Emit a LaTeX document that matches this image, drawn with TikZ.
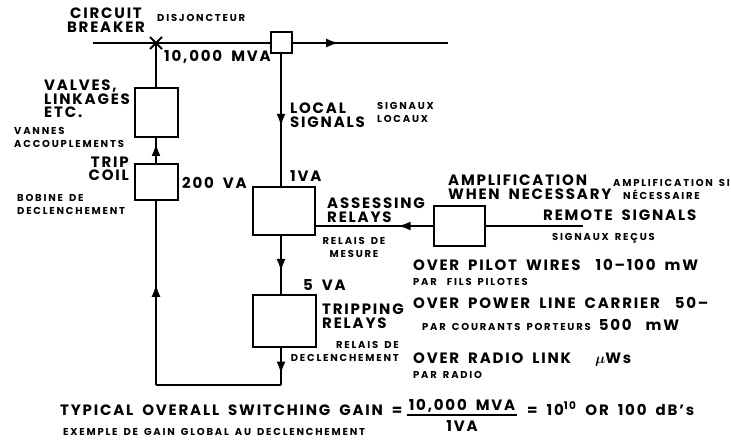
\documentclass[tikz,border=0pt]{standalone}
\usepackage{amsmath}
\usepackage{fontspec}
\setmainfont{Poppins}
\usetikzlibrary{arrows.meta,calc,positioning,decorations.markings}
\newcommand{\bgt}{\bfseries\fontsize{15}{13.5}\selectfont\addfontfeatures{LetterSpace=12}\spaceskip=9pt plus 1pt minus 1pt\relax}
\newcommand{\smt}{\bfseries\fontsize{10}{13}\selectfont\addfontfeatures{LetterSpace=18}\spaceskip=6pt plus 1pt minus 1pt\relax}

\begin{document}
\begin{tikzpicture}[x=1pt,y=-1pt,
  blk/.style={draw,line width=2pt,inner sep=0pt},
  big/.style={font=\bgt,inner sep=0pt,align=left},
  sml/.style={font=\smt,inner sep=0pt,align=left},
  wire/.style={line width=2.6pt},
  arr/.style={postaction={decorate},decoration={markings,
    mark=at position #1 with {\arrow{Latex[length=13pt,width=9pt]}}}}]
  \useasboundingbox (0,0) rectangle (731,441);
  % blocks
  \coordinate (lin) at (93,43);
  \coordinate (lout) at (448,43);
  \coordinate (cb) at (156,43);
  \node[blk,minimum size=21pt] (ct) at (281,43) {};
  \node[blk,minimum width=43pt,minimum height=49pt] (valves) at (156,112.5) {};
  \node[blk,minimum width=43pt,minimum height=36pt] (coil) at (156,182) {};
  \node[blk,minimum width=62pt,minimum height=48pt] (assess) at (284,211) {};
  \node[blk,minimum width=63pt,minimum height=52pt] (tripr) at (284.5,321) {};
  \node[blk,minimum width=51pt,minimum height=40pt] (amp) at (459,226) {};
  \coordinate (remote) at (583,226);
  \coordinate (bl) at (156,385);
  \coordinate (br) at (281,385);
  % wires
  \draw[wire] (lin) -- (ct.west);
  \draw[wire,arr=0.3] (ct.east) -- (lout);
  \draw[line width=2pt] ($(cb)+(-6,-6)$) -- ($(cb)+(6,6)$)
    ($(cb)+(-6,6)$) -- ($(cb)+(6,-6)$);
  \draw[wire] (cb) -- (cb |- valves.north);
  \draw[wire,arr=0.8] (coil.north) -- (valves.south);
  \draw[wire,arr=0.55] (ct.south) -- (ct.south |- assess.north);
  \draw[wire,arr=0.62] (ct |- assess.south) -- (ct |- tripr.north);
  \draw[wire,arr=0.72] (ct |- tripr.south) -- (br);
  \draw[wire] (br) -- (bl);
  \draw[wire,arr=0.55] (bl) -- (bl |- coil.south);
  \draw[wire,arr=0.3] (amp.west) -- (amp.west -| assess.east);
  \draw[wire] (amp.east) -- (remote);
  % labels
  \node[big,align=center] (cbt) at (106,20) {CIRCUIT\\BREAKER};
  \node[sml,anchor=west] (disj) at (157,18) {DISJONCTEUR};
  \node[big,anchor=west] (mva) at (164,57) {10,000 MVA};
  \node[big,anchor=west] (valt) at (44,99) {VALVES,\\LINKAGES\\ETC.};
  \node[sml,anchor=west] (vann) at (14,137) {VANNES\\ACCOUPLEMENTS};
  \node[big,anchor=east,align=right] (coilt) at (129,169) {TRIP\\COIL};
  \node[big,anchor=west] (va200) at (182,183) {200 VA};
  \node[sml,anchor=west] (bob) at (17,204) {BOBINE DE\\DECLENCHEMENT};
  \node[big,anchor=west] (loc) at (290,115) {LOCAL\\SIGNALS};
  \node[sml,anchor=west] (sigloc) at (377,112) {SIGNAUX\\LOCAUX};
  \node[big,anchor=west] (va1) at (290,176) {1VA};
  \node[big,anchor=west] (asst) at (327,210) {ASSESSING\\RELAYS};
  \node[sml,align=center] (mes) at (354,247) {RELAIS DE\\MESURE};
  \node[big,anchor=west] (va5) at (303,285) {5 VA};
  \node[big,anchor=west] (tript) at (322,316) {TRIPPING\\RELAYS};
  \node[sml,anchor=east,align=right] (decl) at (399,351) {RELAIS DE\\DECLENCHEMENT};
  \node[big,anchor=west] (ampt) at (448,187) {AMPLIFICATION\\WHEN NECESSARY};
  \node[sml,anchor=west] (ampf) at (613,189) {AMPLIFICATION SI\\\hspace*{10pt}NÉCESSAIRE};
  \node[big,anchor=west] (rem) at (543,215) {REMOTE SIGNALS};
  \node[sml,anchor=west] (recus) at (552,238) {SIGNAUX REÇUS};
  \node[big,anchor=west] (pilot) at (413,265) {OVER PILOT WIRES\quad 10--100 mW};
  \node[sml,anchor=west] (fils) at (413,282) {PAR\quad FILS PILOTES};
  \node[big,anchor=west] (plc) at (413,303) {OVER POWER LINE CARRIER\quad 50--};
  \node[big,anchor=base west] (cour) at (422,330) {\smt PAR COURANTS PORTEURS\hspace{8pt}\bgt 500\hspace{14pt}mW};
  \node[big,anchor=west] (radio) at (413,360) {OVER RADIO LINK\hspace{24pt}$\boldsymbol{\mu}$Ws};
  \node[sml,anchor=west] (parr) at (413,375) {PAR RADIO};
  % gain formula
  \node[big,anchor=base west] (gain) at (60,415) {TYPICAL OVERALL SWITCHING GAIN =};
  \node[big,anchor=south,inner sep=2pt] (num) at (462,415) {10,000 MVA};
  \node[big,anchor=north,inner sep=3pt] (den) at (462,417) {1VA};
  \draw[line width=1.6pt] (num.south west) -- (num.south east);
  \node[big,anchor=base west] (res) at (527,415) {= 10\textsuperscript{10} OR 100 dB’s};
  \node[sml,anchor=west] (exem) at (63,432) {EXEMPLE DE GAIN GLOBAL AU DECLENCHEMENT};
\end{tikzpicture}
\end{document}
